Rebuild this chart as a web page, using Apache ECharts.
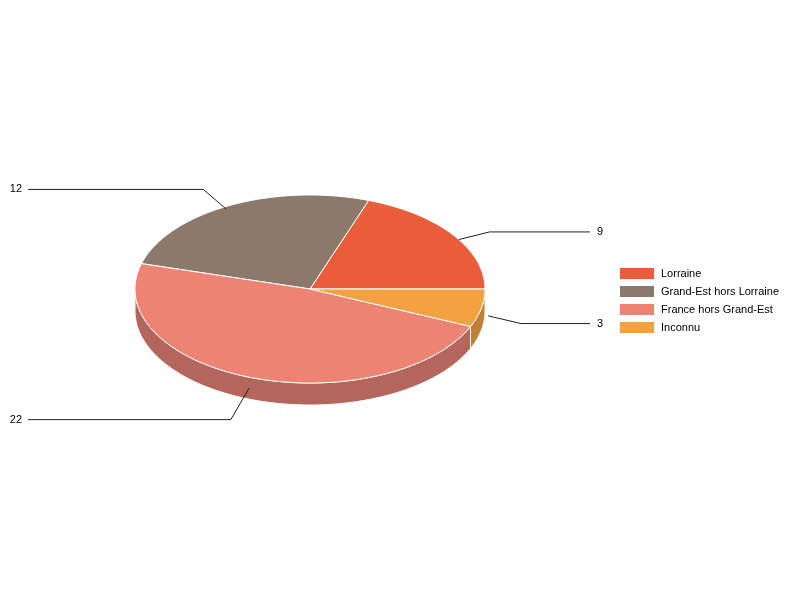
<!DOCTYPE html>
<html>
<head>
<meta charset="utf-8">
<script src="https://cdn.jsdelivr.net/npm/echarts@6/dist/echarts.min.js"></script>
<style>html,body{margin:0;padding:0;background:#fff}#c{width:800px;height:600px}</style>
</head>
<body>
<div id="c"></div>
<script>
const categories = ['Lorraine', 'Grand-Est hors Lorraine', 'France hors Grand-Est', 'Inconnu'];
const values = [9, 12, 22, 3];
const colors = ['#E95D3A', '#8B7A6C', '#EE8374', '#F4A142'];
const sideColors = ['#B04529', '#6C5F54', '#B4665C', '#C17E35'];

const chart = echarts.init(document.getElementById('c'));
const total = values.reduce((a, b) => a + b, 0);
const cx = 310, cy = 289, rx = 175, ry = 94, depth = 22;
const FONT = '11px "Liberation Sans", Arial, sans-serif';

function pt(a, dy, k) { k = k || 1; return [cx + rx * k * Math.cos(a), cy - ry * k * Math.sin(a) + (dy || 0)]; }
function arc(a1, a2, dy) {
  const pts = [];
  const n = Math.max(2, Math.ceil((a2 - a1) / (Math.PI / 180)));
  for (let i = 0; i <= n; i++) pts.push(pt(a1 + (a2 - a1) * i / n, dy));
  return pts;
}

function renderItem(params, api) {
  const idx = params.dataIndex;
  const v = api.value(0);
  let before = 0;
  for (let i = 0; i < idx; i++) before += values[i];
  const a1 = before / total * Math.PI * 2;
  const a2 = (before + v) / total * Math.PI * 2;
  const children = [];
  const s1 = Math.max(a1, Math.PI), s2 = Math.min(a2, Math.PI * 2);
  if (s2 > s1) {
    const top = arc(s1, s2, 0);
    const bot = arc(s1, s2, depth).reverse();
    children.push({
      type: 'polygon', z2: 1,
      shape: { points: top.concat(bot) },
      style: { fill: sideColors[idx], stroke: '#fff', lineWidth: 1 }
    });
  }
  children.push({
    type: 'polygon', z2: 2,
    shape: { points: [[cx, cy]].concat(arc(a1, a2, 0)) },
    style: { fill: colors[idx], stroke: '#fff', lineWidth: 1 }
  });
  const mid = (a1 + a2) / 2;
  const s = pt(mid, 7, 1.04);
  let dx = Math.cos(mid), dy = -Math.sin(mid) * ry / rx;
  const len = Math.sqrt(dx * dx + dy * dy);
  dx /= len; dy /= len;
  const L = 33;
  const e = [s[0] + L * dx, s[1] + L * dy + 4];
  const right = Math.cos(mid) >= 0;
  const endX = right ? cx + 280 : cx - 282;
  children.push({
    type: 'polyline', z2: 5,
    shape: { points: [s, e, [endX, e[1]]] },
    style: { stroke: '#222', fill: null, lineWidth: 1 }
  });
  children.push({
    type: 'text', z2: 6,
    style: {
      text: String(v), x: right ? endX + 7 : endX - 6, y: e[1],
      fill: '#000', font: FONT,
      align: right ? 'left' : 'right', verticalAlign: 'middle'
    }
  });
  return { type: 'group', children: children };
}

chart.setOption({
  animation: false,
  legend: {
    orient: 'vertical', left: 620, top: 268, padding: 0,
    itemWidth: 34, itemHeight: 11, itemGap: 7,
    icon: 'rect', selectedMode: false,
    textStyle: { fontSize: 11, color: '#000', padding: [0, 0, 0, 2], fontFamily: '"Liberation Sans", Arial, sans-serif' },
    data: categories
  },
  series: [
    {
      type: 'pie', silent: true, center: [-500, -500], radius: 1,
      label: { show: false }, labelLine: { show: false },
      data: categories.map((c, i) => ({ name: c, value: values[i], itemStyle: { color: colors[i] } }))
    },
    {
      type: 'custom', coordinateSystem: 'none', silent: true,
      renderItem: renderItem,
      data: values
    }
  ]
});
</script>
</body>
</html>
